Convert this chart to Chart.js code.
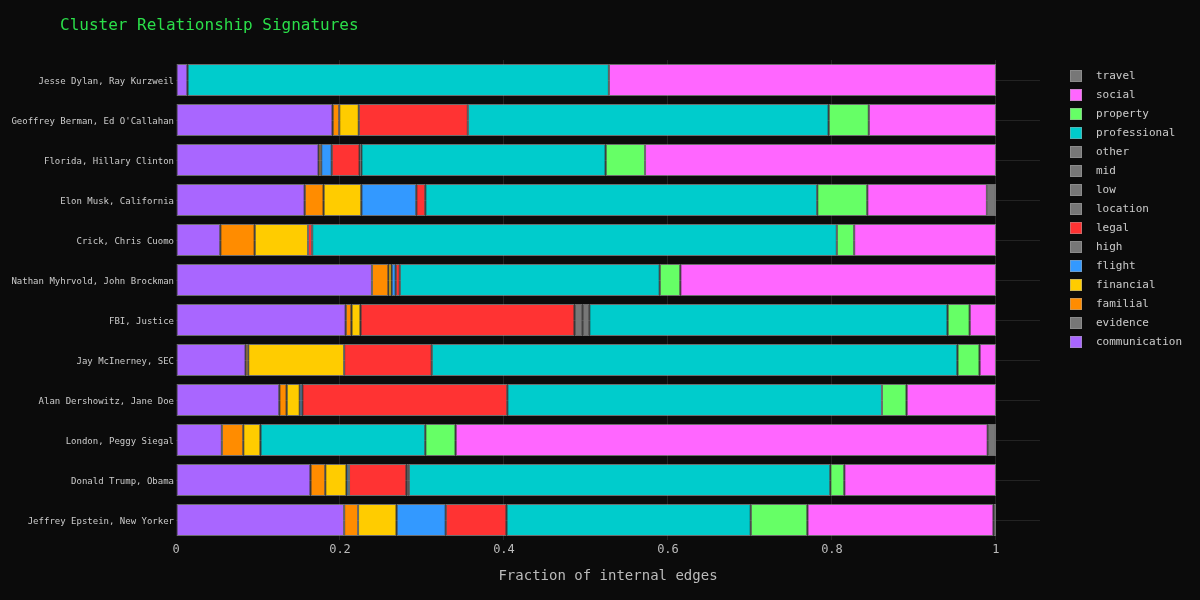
<!DOCTYPE html>
<html>
<head>
<meta charset="utf-8">
<script src="https://cdn.jsdelivr.net/npm/chart.js@4.4.1/dist/chart.umd.min.js"></script>
<style>
  html, body { margin: 0; padding: 0; background: #0b0b0b; }
  #wrap { position: relative; width: 1200px; height: 600px; background: #0b0b0b; }
  #title { position: absolute; left: 60px; top: 15px; font: 16px "DejaVu Sans Mono", monospace; color: #2bdf4a; white-space: nowrap; }
  #legend { position: absolute; left: 1070px; top: 66px; font: 11px "DejaVu Sans Mono", monospace; color: #cccccc; }
  .li { height: 19px; display: flex; align-items: center; }
  .sw { width: 12px; height: 12px; box-sizing: border-box; border: 1px solid rgba(160,160,160,0.5); margin-right: 14px; }
  canvas { position: absolute; left: 0; top: 0; }
</style>
</head>
<body>
<div id="wrap">
  <canvas id="c" width="1200" height="600"></canvas>
  <div id="title">Cluster Relationship Signatures</div>
  <div id="legend"></div>
</div>
<script>
const categories = ["Jesse Dylan, Ray Kurzweil","Geoffrey Berman, Ed O'Callahan","Florida, Hillary Clinton","Elon Musk, California","Crick, Chris Cuomo","Nathan Myhrvold, John Brockman","FBI, Justice","Jay McInerney, SEC","Alan Dershowitz, Jane Doe","London, Peggy Siegal","Donald Trump, Obama","Jeffrey Epstein, New Yorker"];
const xTicks = [0, 0.2, 0.4, 0.6, 0.8, 1];

const communicationVals = [0.014, 0.191, 0.174, 0.157, 0.054, 0.239, 0.207, 0.085, 0.126, 0.056, 0.164, 0.205];
const evidenceVals      = [0, 0, 0, 0, 0, 0, 0, 0, 0, 0, 0, 0];
const familialVals      = [0, 0.008, 0.003, 0.023, 0.042, 0.020, 0.007, 0.003, 0.009, 0.026, 0.018, 0.017];
const financialVals     = [0, 0.024, 0, 0.046, 0.065, 0.004, 0.011, 0.117, 0.016, 0.021, 0.026, 0.047];
const flightVals        = [0, 0, 0.013, 0.067, 0, 0.005, 0, 0, 0.003, 0, 0.003, 0.060];
const highVals          = [0, 0, 0, 0, 0, 0, 0, 0, 0, 0, 0, 0];
const legalVals         = [0, 0.133, 0.034, 0.011, 0.005, 0.005, 0.261, 0.107, 0.250, 0, 0.070, 0.074];
const locationVals      = [0, 0, 0.002, 0, 0, 0, 0.010, 0, 0, 0, 0.003, 0];
const lowVals           = [0, 0, 0, 0, 0, 0, 0.008, 0, 0, 0, 0, 0];
const midVals           = [0, 0, 0, 0, 0, 0, 0, 0, 0, 0, 0, 0];
const otherVals         = [0, 0, 0, 0, 0, 0, 0, 0, 0, 0, 0, 0];
const professionalVals  = [0.514, 0.440, 0.298, 0.478, 0.640, 0.317, 0.437, 0.641, 0.457, 0.201, 0.514, 0.298];
const propertyVals      = [0, 0.049, 0.048, 0.061, 0.021, 0.025, 0.027, 0.027, 0.030, 0.037, 0.017, 0.069];
const socialVals        = [0.472, 0.155, 0.428, 0.146, 0.173, 0.385, 0.032, 0.020, 0.109, 0.649, 0.185, 0.227];
const travelVals        = [0, 0, 0, 0.011, 0, 0, 0, 0, 0, 0.010, 0, 0.003];

const seriesNames = ["communication","evidence","familial","financial","flight","high","legal","location","low","mid","other","professional","property","social","travel"];
const seriesData = [communicationVals, evidenceVals, familialVals, financialVals, flightVals, highVals, legalVals, locationVals, lowVals, midVals, otherVals, professionalVals, propertyVals, socialVals, travelVals];
const GREY = "#777777";
const seriesColors = ["#a966ff", GREY, "#ff8c00", "#ffcc00", "#3399ff", GREY, "#ff3333", GREY, GREY, GREY, GREY, "#00cccc", "#66ff66", "#ff66ff", GREY];

const datasets = seriesNames.map((n, i) => ({
  label: n,
  data: seriesData[i],
  backgroundColor: seriesColors[i],
  borderColor: "rgba(190,190,190,0.55)",
  borderWidth: (ctx) => (ctx.raw ? 1 : 0),
  borderSkipped: false,
  barPercentage: 1.0,
  categoryPercentage: 0.8
}));

// HTML legend (reverse order like reference)
const leg = document.getElementById("legend");
for (let i = seriesNames.length - 1; i >= 0; i--) {
  const d = document.createElement("div"); d.className = "li";
  const s = document.createElement("div"); s.className = "sw"; s.style.background = seriesColors[i];
  const t = document.createElement("span"); t.textContent = seriesNames[i];
  d.appendChild(s); d.appendChild(t); leg.appendChild(d);
}

const mono = "'DejaVu Sans Mono', monospace";
new Chart(document.getElementById("c"), {
  type: "bar",
  data: { labels: categories, datasets },
  options: {
    indexAxis: "y",
    responsive: false,
    animation: false,
    layout: { padding: { left: 0, right: 160, top: 60, bottom: 15 } },
    plugins: { legend: { display: false }, title: { display: false }, tooltip: { enabled: false } },
    scales: {
      x: {
        stacked: true,
        min: 0,
        max: 1.0537,
        afterBuildTicks: (s) => { s.ticks = xTicks.map(v => ({ value: v })); },
        afterFit: (s) => { s.height = 45; },
        grid: { color: (ctx) => (ctx.tick && ctx.tick.value === 0 ? "rgba(0,0,0,0)" : "#232323"), drawTicks: false },
        border: { display: false },
        ticks: { color: "#bbbbbb", font: { family: mono, size: 12 }, padding: 3, callback: (v) => String(v) },
        title: { display: true, text: "Fraction of internal edges", color: "#bbbbbb", font: { family: mono, size: 14 }, padding: { top: 0, bottom: 0 } }
      },
      y: {
        stacked: true,
        afterFit: (s) => { s.width = 176; },
        grid: { color: "#232323", offset: false, drawTicks: false },
        border: { display: false },
        ticks: { color: "#cccccc", font: { family: mono, size: 9 }, padding: 2, labelOffset: 1.5 }
      }
    }
  }
});
</script>
</body>
</html>
